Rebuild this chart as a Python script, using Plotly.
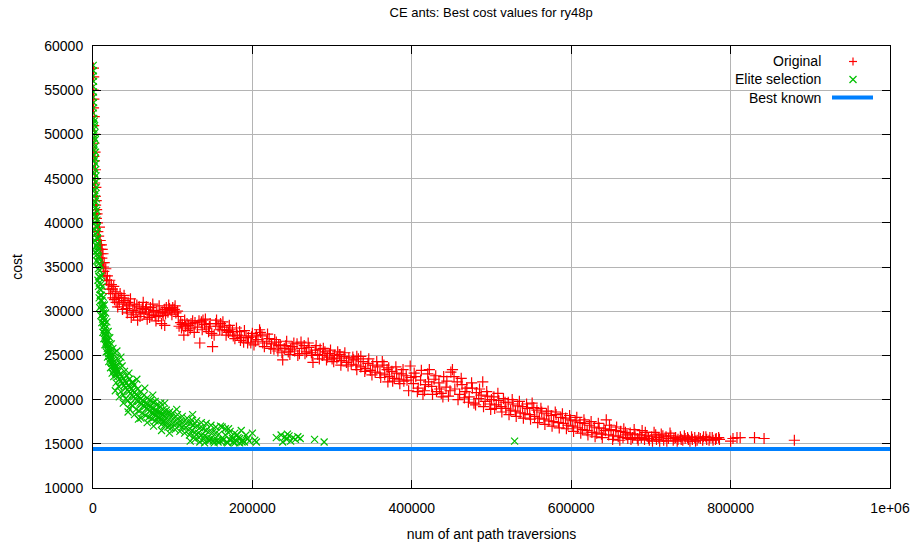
import plotly.graph_objects as go

TITLE = "CE ants: Best cost values for ry48p"
X_TITLE = "num of ant path traversions"
Y_TITLE = "cost"
SERIES_NAMES = ["Original", "Elite selection", "Best known"]

X_TICKS = [0, 200000, 400000, 600000, 800000, 1000000]
X_TICK_TEXT = ["0", "200000", "400000", "600000", "800000", "1e+06"]
Y_TICKS = [10000, 15000, 20000, 25000, 30000, 35000, 40000, 45000, 50000, 55000, 60000]
X_RANGE = [0, 1000000]
Y_RANGE = [10000, 60000]

BEST_KNOWN = 14422

# Original (red +), (traversions, cost)
original_points = [
    (500, 57500), (800, 56500), (300, 55000), (1000, 54000), (600, 53000), (1500, 52000),
    (800, 51000), (2000, 50000), (1200, 49000), (2500, 48000), (1800, 47000), (3000, 46000),
    (2200, 45000), (3500, 44000), (2800, 43000), (4000, 42500), (3200, 42000), (4500, 41500),
    (5000, 41000), (4200, 40500), (5500, 40000), (2000, 44500), (1000, 47500), (3000, 41000),
    (6000, 39000), (7000, 38500), (7500, 38000), (8000, 39500), (8500, 37500), (9000, 38000),
    (9500, 37000), (10000, 36500), (10500, 37500), (11000, 36000), (11500, 37000), (12000, 35500),
    (12500, 36500), (13000, 35000), (13500, 34500), (14000, 35500), (15000, 34000), (16000, 34800),
    (17000, 33500), (18000, 34000), (19000, 33000), (20000, 32500), (21000, 33500), (22000, 32000),
    (23000, 33000), (24000, 32500), (25000, 31500), (26000, 32800), (27000, 31300), (28000, 32200),
    (29000, 31000), (30000, 32000), (31000, 30500), (32000, 31500), (33000, 31000), (34000, 32000),
    (36000, 31500), (38000, 30800), (40000, 31200), (42000, 30300), (44000, 31000), (46000, 30600),
    (48000, 29300), (50000, 30100), (52000, 30800), (54000, 29900), (56000, 29000), (58000, 30500),
    (60000, 29800), (62000, 30300), (64000, 29700), (66000, 30200), (68000, 29100), (70000, 29900),
    (72000, 30400), (74000, 29600), (76000, 30100), (78000, 29500), (80000, 30000), (82000, 29400),
    (84000, 29800), (86000, 28600), (88000, 29500), (90000, 30200), (92000, 30400), (94000, 29900),
    (96000, 30300), (98000, 30100), (100000, 30400), (102000, 30200), (104000, 29800), (106000, 30000),
    (108000, 28300), (110000, 28700), (112000, 28500), (114000, 27300), (116000, 28300), (118000, 28600),
    (120000, 28400), (90000, 28400),
    (37000, 30200), (39000, 31800), (43000, 29800), (47000, 31400), (51000, 29600), (55000, 30700),
    (59000, 29400), (63000, 31000), (67000, 30500), (71000, 29300), (75000, 30800), (79000, 28900),
    (83000, 30600), (87000, 29900), (91000, 29700), (95000, 30700), (99000, 29600), (103000, 30600),
    (107000, 29400), (111000, 28100), (115000, 29000), (119000, 27800),
    (122000, 28000), (125000, 28900), (128000, 28700), (131000, 28200), (134000, 26400), (136000, 28800),
    (138000, 29000), (140000, 28500), (142000, 28100), (145000, 27700), (147000, 28600), (150000, 26000),
    (152000, 27300), (155000, 29000), (157000, 28300), (160000, 28600), (162000, 27900), (165000, 28200),
    (168000, 27800), (170000, 27600), (172000, 27900), (175000, 27700), (178000, 26900), (181000, 27300),
    (184000, 27700), (186000, 27000), (189000, 26500), (192000, 27200), (195000, 27000), (198000, 26400),
    (200000, 27500), (202000, 26200), (205000, 27300), (207000, 26800), (210000, 27600), (212000, 27200),
    (215000, 26000), (218000, 26600), (221000, 26900), (224000, 26300), (227000, 25700), (230000, 26500),
    (232000, 25500), (235000, 26200), (238000, 24500), (240000, 25800), (243000, 26600), (245000, 25400),
    (248000, 25700), (250000, 26000),
    (123000, 28600), (127000, 27600), (133000, 28900), (137000, 27900), (141000, 29100), (146000, 28300),
    (149000, 27500), (154000, 28600), (159000, 27900), (163000, 28800), (167000, 27300), (171000, 28400),
    (176000, 27200), (180000, 28100), (185000, 26700), (190000, 27800), (194000, 26400), (199000, 27100),
    (204000, 26600), (209000, 27900), (213000, 26400), (219000, 27400), (223000, 25800), (228000, 26800),
    (233000, 26100), (237000, 25300), (242000, 26100), (247000, 25100),
    (253000, 25500), (256000, 26300), (259000, 25200), (262000, 25800), (265000, 26100), (268000, 25400),
    (271000, 25900), (274000, 25300), (276000, 24200), (279000, 25600), (282000, 25100), (285000, 25700),
    (288000, 25000), (291000, 25400), (294000, 24800), (297000, 25200), (300000, 24600), (303000, 25000),
    (306000, 24700), (309000, 25100), (312000, 24400), (315000, 24900), (318000, 24200), (321000, 24700),
    (324000, 24000), (327000, 24500), (330000, 23900), (333000, 24600), (336000, 23700), (339000, 24300),
    (342000, 23500), (345000, 24100), (348000, 23300), (351000, 23900), (354000, 23100), (357000, 23700),
    (360000, 23000), (363000, 24300), (366000, 22800), (369000, 23400), (372000, 22600), (375000, 23200),
    (378000, 22400), (381000, 23000), (384000, 22300), (387000, 22900), (390000, 22100), (393000, 22700),
    (396000, 21000), (399000, 22500), (370000, 22000), (331000, 24900), (310000, 25100),
    (252000, 26400), (257000, 25000), (261000, 26500), (266000, 25200), (270000, 26400), (275000, 25000),
    (280000, 26100), (284000, 24600), (289000, 25800), (293000, 24500), (298000, 25600), (302000, 24300),
    (307000, 25400), (311000, 23900), (316000, 25300), (320000, 23800), (326000, 24800), (331000, 23400),
    (336000, 24900), (341000, 23200), (346000, 24600), (350000, 22800), (356000, 24300), (361000, 22500),
    (365000, 23900), (371000, 23600), (376000, 22100), (380000, 23700), (385000, 21800), (389000, 23400),
    (394000, 22200), (398000, 23800),
    (402000, 21800), (405000, 22600), (408000, 21300), (411000, 22200), (414000, 20600), (417000, 21700),
    (420000, 22900), (422000, 23400), (425000, 21500), (428000, 22300), (431000, 20900), (434000, 21900),
    (437000, 20700), (440000, 22600), (443000, 21400), (446000, 20400), (449000, 23100), (451000, 23400),
    (454000, 21200), (457000, 22000), (460000, 20600), (463000, 21700), (466000, 20200), (469000, 21300),
    (472000, 20300), (475000, 21900), (478000, 19600), (481000, 20800), (484000, 20100), (487000, 20500),
    (489000, 22000), (492000, 19800), (495000, 20400), (498000, 19500), (500000, 20000),
    (403000, 23000), (407000, 20900), (412000, 23300), (416000, 21000), (421000, 22000), (426000, 20600),
    (430000, 22700), (435000, 21200), (439000, 20300), (444000, 22100), (448000, 21000), (453000, 22600),
    (458000, 20000), (462000, 22400), (467000, 20900), (471000, 19700), (476000, 21300), (480000, 19400),
    (485000, 21200), (490000, 19200), (494000, 20900), (499000, 18900),
    (503000, 20300), (506000, 19400), (509000, 19900), (512000, 19200), (515000, 20100), (518000, 19000),
    (521000, 19700), (524000, 18800), (527000, 19500), (530000, 18700), (533000, 19300), (536000, 18500),
    (539000, 19200), (542000, 18400), (545000, 19000), (548000, 18300), (551000, 19600), (554000, 18100),
    (557000, 18800), (560000, 17900), (563000, 18600), (566000, 17800), (569000, 18400), (572000, 17600),
    (575000, 18200), (578000, 17500), (581000, 18300), (584000, 17400), (587000, 18000), (590000, 17300),
    (593000, 17900), (596000, 17100), (599000, 17700),
    (504000, 19000), (508000, 20700), (513000, 18600), (517000, 19700), (522000, 18300), (526000, 20000),
    (531000, 18100), (535000, 19800), (540000, 17900), (544000, 19500), (549000, 17800), (553000, 19100),
    (558000, 17400), (562000, 19000), (567000, 17200), (571000, 18700), (576000, 17000), (580000, 18600),
    (585000, 16800), (589000, 18400), (594000, 16700), (598000, 18200),
    (602000, 17000), (605000, 17600), (608000, 16800), (611000, 17400), (614000, 16600), (617000, 17300),
    (620000, 16500), (623000, 17100), (626000, 16300), (629000, 16900), (632000, 16200), (635000, 16800),
    (638000, 16100), (641000, 16700), (644000, 17700), (647000, 16000), (650000, 16600), (653000, 15900),
    (656000, 16500), (659000, 15800), (662000, 16400), (665000, 15700), (668000, 16300), (671000, 15600),
    (674000, 16200), (677000, 15700), (680000, 16100), (683000, 15600), (686000, 16000), (689000, 16500),
    (692000, 15500), (695000, 15900), (698000, 15400),
    (603000, 16400), (607000, 18000), (612000, 16200), (616000, 17700), (621000, 16000), (625000, 17500),
    (630000, 15800), (634000, 17300), (639000, 15700), (643000, 16500), (648000, 17100), (652000, 15500),
    (657000, 16900), (661000, 15400), (666000, 16700), (670000, 16000), (675000, 15500), (679000, 16600),
    (684000, 15400), (688000, 15700), (693000, 16300), (697000, 15600),
    (701000, 15800), (704000, 16300), (707000, 15500), (710000, 15700), (713000, 16100), (716000, 15400),
    (719000, 15800), (722000, 15600), (725000, 15900), (728000, 15400), (731000, 15700), (734000, 15500),
    (737000, 15800), (740000, 15400), (743000, 15600), (746000, 15700), (749000, 15300), (752000, 15500),
    (755000, 15700), (758000, 15400), (762000, 15600), (766000, 15800), (770000, 15500), (774000, 15700),
    (778000, 15400), (782000, 15600), (786000, 15500), (800000, 15300), (803000, 15600), (808000, 15700),
    (812000, 15700), (830000, 15700), (842000, 15600), (880000, 15400),
    (702000, 15300), (706000, 16000), (711000, 15300), (715000, 15900), (720000, 15300), (724000, 16200),
    (729000, 15600), (733000, 15300), (738000, 15500), (742000, 15900), (747000, 15500), (751000, 15800),
    (756000, 15300), (760000, 15700), (765000, 15400), (769000, 15800), (773000, 15400), (777000, 15700),
    (781000, 15500), (785000, 15700),
]

# Elite selection (green x)
elite_points = [
    (300, 57800), (500, 57200), (200, 56600), (700, 56000), (400, 55400), (600, 54800), (300, 54200),
    (800, 53600), (500, 53000), (200, 52400), (900, 51800), (1500, 51500), (600, 51200), (2000, 51000),
    (1000, 50600), (2500, 50200), (300, 50000), (1800, 49600), (3000, 49400), (800, 49000), (2200, 48600),
    (1200, 48200), (3200, 48000), (500, 47600), (2600, 47300), (1600, 47000), (3500, 46700), (900, 46300),
    (2900, 46000), (2000, 45600), (3800, 45300), (1300, 45000), (3100, 44600), (600, 44300), (4000, 44000),
    (2400, 43700), (3400, 43300), (1700, 43000), (4300, 42700), (2800, 42400), (1000, 42000), (3600, 41700),
    (4600, 41400), (2100, 41000), (3900, 40600), (5000, 40300), (2700, 40000), (4400, 39600), (1500, 39300),
    (5300, 39000), (3300, 38700), (4800, 38300), (2300, 38000), (5600, 37700), (4000, 37400), (6000, 37000),
    (3000, 36700), (5000, 36400), (6500, 36000), (4500, 35700),
    (5200, 39500), (5500, 36800), (5800, 38200), (6100, 35600), (6400, 37300), (6700, 34800), (7000, 36200),
    (7300, 33900), (7600, 35400), (7900, 33200), (8200, 34600), (8500, 32500), (8800, 33800), (9100, 31800),
    (9400, 33000), (9700, 31200), (10000, 32400), (10300, 30600), (10600, 31800), (10900, 30100),
    (11200, 31200), (11500, 29600), (11800, 30700), (12100, 29100), (12400, 30300), (12700, 28700),
    (13000, 29800), (13300, 28300), (13600, 29300), (13900, 27900), (14200, 28900), (14500, 27500),
    (14800, 28500), (15100, 27200), (15400, 28100), (15700, 26900), (16000, 27700), (16400, 26500),
    (16800, 27300), (17200, 26200), (17600, 26900), (18000, 25800), (18400, 26600), (18800, 25500),
    (19200, 26200), (19600, 25200), (20000, 25900),
    (6200, 33500), (6900, 32800), (7700, 31500), (8400, 30400), (9000, 35200), (9800, 29500),
    (10400, 34000), (11000, 28700), (11700, 32800), (12300, 27600), (13000, 31600), (13600, 26900),
    (14300, 30700), (15000, 26200), (15800, 29800), (16600, 25400), (17400, 28800), (18200, 24800),
    (19000, 27700), (19800, 24300),
    (20500, 24900), (21000, 25600), (21500, 24600), (22000, 25300), (22500, 24300), (23000, 25000),
    (23500, 24100), (24000, 24700), (24500, 23800), (25000, 24500), (25500, 23600), (26000, 24200),
    (26500, 23400), (27000, 24000), (27500, 23200), (28000, 23800), (28500, 23000), (29000, 23600),
    (29500, 22800), (30000, 23400), (31000, 22600), (32000, 23200), (33000, 22300), (34000, 22900),
    (35000, 22100), (36000, 22600), (37000, 21800), (38000, 22400), (39000, 21600), (40000, 22100),
    (30000, 25500), (50000, 22000),
    (21000, 27000), (22000, 23600), (23000, 26300), (24000, 23000), (25000, 25800), (26000, 22600),
    (27500, 25300), (29000, 21900), (30500, 24700), (32000, 21500), (33500, 24200), (35000, 20900),
    (36500, 23800), (38000, 20500), (39500, 23200), (41000, 20100), (42500, 22700), (44000, 19900),
    (45500, 22300), (47000, 19500), (48500, 21900), (50000, 19300),
    (28000, 21000), (33000, 20300), (38000, 19600), (45000, 19000), (52000, 18300), (60000, 17900),
    (68000, 17400), (76000, 17000), (86000, 16500), (96000, 16200),
    (35000, 24800), (45000, 23000), (55000, 22300), (65000, 21300), (75000, 20500), (90000, 19600),
    (105000, 18900), (125000, 18300),
    (41000, 21300), (42000, 21900), (43000, 21100), (44000, 21600), (45000, 20900), (46000, 21400),
    (47000, 20700), (48000, 21200), (49000, 20500), (50000, 21000), (51000, 20300), (52000, 20800),
    (53000, 20100), (54000, 20600), (55000, 19900), (56000, 20400), (57000, 19800), (58000, 20300),
    (59000, 19600), (60000, 20100), (61000, 19500), (62000, 19900), (63000, 19300), (64000, 19800),
    (65000, 19200), (66000, 19600), (67000, 19000), (68000, 19500), (69000, 18900), (70000, 19400),
    (57000, 17800), (44000, 18600),
    (52000, 21700), (54000, 18900), (56000, 21200), (58000, 18700), (60000, 20900), (62000, 18500),
    (64000, 20500), (66000, 18200), (68000, 20200), (70000, 18000), (72000, 19900), (74000, 17800),
    (76000, 19700), (78000, 17600), (80000, 19400), (82000, 17500), (84000, 19200), (86000, 17200),
    (88000, 18900), (90000, 17100), (92000, 18800), (94000, 16900), (96000, 18600), (98000, 16800),
    (100000, 18500),
    (71000, 18700), (72000, 19200), (73000, 18500), (74000, 19100), (75000, 18400), (76000, 19000),
    (77000, 18300), (78000, 18800), (79000, 18200), (80000, 18700), (81000, 18000), (82000, 18600),
    (83000, 17900), (84000, 18500), (85000, 17800), (86000, 18400), (87000, 17700), (88000, 18300),
    (89000, 17600), (90000, 18200), (92000, 17500), (94000, 18100), (96000, 17400), (98000, 18000),
    (100000, 17300), (102000, 17900), (104000, 17200), (106000, 17800), (108000, 17100), (110000, 17600),
    (85000, 19600), (78000, 19800),
    (103000, 16600), (106000, 18300), (109000, 16400), (112000, 18100), (115000, 16200), (118000, 17900),
    (121000, 16000), (124000, 17700), (127000, 15800), (130000, 17600), (133000, 15700), (136000, 17400),
    (139000, 15500), (142000, 17300), (145000, 15400), (148000, 17100), (151000, 15300), (154000, 16900),
    (157000, 15200), (160000, 17000), (163000, 15400), (166000, 16700), (169000, 15100), (172000, 16400),
    (175000, 15600), (178000, 15100), (181000, 16000), (184000, 15600), (187000, 15200), (192000, 16000),
    (196000, 15300), (203000, 15400),
    (112000, 16900), (114000, 17500), (116000, 16800), (118000, 17400), (120000, 16600), (122000, 17300),
    (124000, 16500), (126000, 17100), (128000, 16300), (130000, 17000), (132000, 16200), (134000, 16800),
    (136000, 16000), (138000, 16700), (140000, 15900), (142000, 16500), (144000, 15700), (146000, 16400),
    (148000, 15600), (150000, 16300), (152000, 15500), (154000, 16200), (156000, 15400), (158000, 16100),
    (160000, 15300), (162000, 16900), (164000, 15500), (166000, 16000), (168000, 15200), (170000, 16700),
    (172000, 15400), (174000, 15900), (176000, 15200), (178000, 16200), (180000, 15300), (182000, 15700),
    (184000, 15100), (186000, 16500), (188000, 15400), (190000, 15200), (194000, 15600), (200000, 16200),
    (205000, 15200), (122000, 15300), (128000, 15500), (134000, 15200), (140000, 15100), (146000, 15300),
    (152000, 15100),
    (230000, 15700), (236000, 16000), (238000, 15200), (241000, 15800), (243000, 15500), (246000, 15900),
    (248000, 15300), (251000, 15700), (254000, 15500), (257000, 15800), (260000, 15600), (244000, 16100),
    (278000, 15500), (290000, 15200), (529000, 15300),
]

RED = "#ff0000"
GREEN = "#00c000"
BLUE = "#0080ff"
FONT = "Liberation Sans, Arial, sans-serif"

orig_x = [p[0] for p in original_points]
orig_y = [p[1] for p in original_points]
elite_x = [p[0] for p in elite_points]
elite_y = [p[1] for p in elite_points]

fig = go.Figure()
fig.add_trace(go.Scatter(
    x=orig_x, y=orig_y, mode="markers", name=SERIES_NAMES[0],
    marker=dict(symbol="cross-thin", size=8, color=RED, line=dict(color=RED, width=1.2)),
))
fig.add_trace(go.Scatter(
    x=elite_x, y=elite_y, mode="markers", name=SERIES_NAMES[1],
    marker=dict(symbol="x-thin", size=7, color=GREEN, line=dict(color=GREEN, width=1.2)),
))
fig.add_trace(go.Scatter(
    x=X_RANGE, y=[BEST_KNOWN, BEST_KNOWN], mode="lines", name=SERIES_NAMES[2],
    line=dict(color=BLUE, width=4),
))

# gnuplot-style key (text right-aligned, sample to the right)
PLOT_L, PLOT_R, PLOT_T, PLOT_B = 93, 890, 46, 488
def px_x(px):
    return (px - PLOT_L) / (PLOT_R - PLOT_L)
def px_y(py):
    return (PLOT_B - py) / (PLOT_B - PLOT_T)

shapes = [dict(type="rect", xref="paper", yref="paper", layer="between",
               x0=px_x(697), x1=px_x(884), y0=px_y(108), y1=px_y(50),
               fillcolor="white", line=dict(width=0))]
annotations = []
key_rows_py = [61.5, 79.5, 97.5]
text_right = px_x(823)
sym_x = px_x(853)
for name, py in zip(SERIES_NAMES, key_rows_py):
    annotations.append(dict(xref="paper", yref="paper", x=text_right, y=px_y(py),
                            text=name, showarrow=False, xanchor="right", yanchor="middle",
                            font=dict(family=FONT, size=14, color="black")))
shapes.append(dict(type="line", xref="paper", yref="paper", xsizemode="pixel", ysizemode="pixel",
                   xanchor=sym_x, yanchor=px_y(key_rows_py[0]), x0=-4, x1=4, y0=0, y1=0,
                   line=dict(color=RED, width=1.2)))
shapes.append(dict(type="line", xref="paper", yref="paper", xsizemode="pixel", ysizemode="pixel",
                   xanchor=sym_x, yanchor=px_y(key_rows_py[0]), x0=0, x1=0, y0=-4, y1=4,
                   line=dict(color=RED, width=1.2)))
shapes.append(dict(type="line", xref="paper", yref="paper", xsizemode="pixel", ysizemode="pixel",
                   xanchor=sym_x, yanchor=px_y(key_rows_py[1]), x0=-3.5, x1=3.5, y0=-3.5, y1=3.5,
                   line=dict(color=GREEN, width=1.2)))
shapes.append(dict(type="line", xref="paper", yref="paper", xsizemode="pixel", ysizemode="pixel",
                   xanchor=sym_x, yanchor=px_y(key_rows_py[1]), x0=-3.5, x1=3.5, y0=3.5, y1=-3.5,
                   line=dict(color=GREEN, width=1.2)))
shapes.append(dict(type="line", xref="paper", yref="paper",
                   x0=px_x(832), x1=px_x(873), y0=px_y(key_rows_py[2]), y1=px_y(key_rows_py[2]),
                   line=dict(color=BLUE, width=4)))

axis_common = dict(
    showline=True, linecolor="black", linewidth=1, mirror="ticks",
    ticks="inside", ticklen=8, tickwidth=1, tickcolor="black",
    showgrid=True, gridcolor="#b4b4b4", gridwidth=1, zeroline=False,
    tickfont=dict(family=FONT, size=14, color="black"),
    automargin=False,
)

fig.update_layout(
    width=917, height=545,
    margin=dict(l=PLOT_L, r=917 - PLOT_R, t=PLOT_T, b=545 - PLOT_B),
    paper_bgcolor="white", plot_bgcolor="white",
    showlegend=False,
    title=dict(text=TITLE, x=0.5356, xanchor="center", yref="container", y=1 - 12 / 545,
               yanchor="middle", pad=dict(t=0, b=0),
               font=dict(family=FONT, size=13, color="black")),
    xaxis=dict(range=X_RANGE, tickvals=X_TICKS, ticktext=X_TICK_TEXT, ticklabelstandoff=7,
               title=dict(text=X_TITLE, font=dict(family=FONT, size=14, color="black"), standoff=14),
               **axis_common),
    yaxis=dict(range=Y_RANGE, tickvals=Y_TICKS, tickformat="d", ticklabelstandoff=6,
               title=dict(text=Y_TITLE, font=dict(family=FONT, size=14, color="black"), standoff=18),
               **axis_common),
    shapes=shapes, annotations=annotations,
)

fig.write_html("out.html", config={"displayModeBar": False},
               post_script="document.body.style.margin='0';document.body.style.padding='0';")
